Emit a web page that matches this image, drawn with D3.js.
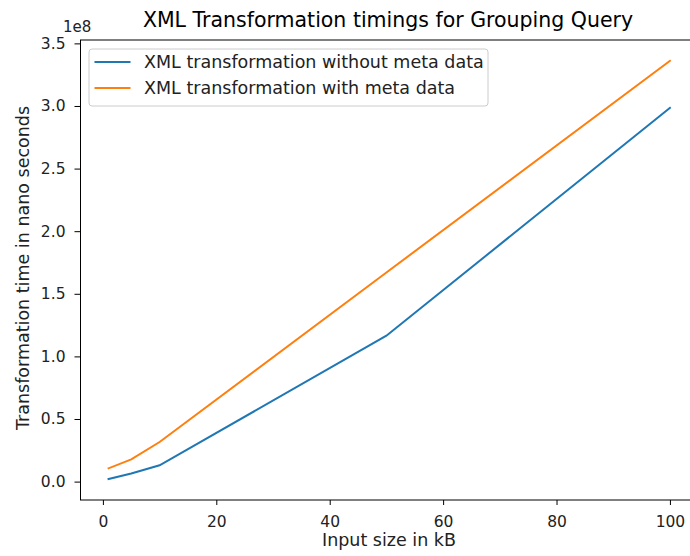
<!DOCTYPE html>
<html>
<head>
<meta charset="utf-8">
<script src="https://cdn.jsdelivr.net/npm/d3@7"></script>
<style>
body { margin: 0; background: #fff; }
svg { display: block; font-family: "DejaVu Sans", sans-serif; }
</style>
</head>
<body>
<script>
// data
var inputSizes = [1, 5, 10, 50, 100];
var withoutMeta = [2.0e6, 6.5e6, 13.0e6, 116.5e6, 298.5e6];
var withMeta = [10.6e6, 17.8e6, 31.6e6, 167.0e6, 336.0e6];
var seriesNames = ["XML transformation without meta data", "XML transformation with meta data"];
var seriesColors = ["#1f77b4", "#ff7f0e"];
var xTicks = [0, 20, 40, 60, 80, 100];
var yTicks = [0, 0.5e8, 1.0e8, 1.5e8, 2.0e8, 2.5e8, 3.0e8, 3.5e8];

var margin = {top: 40, left: 80.5, right: 698, bottom: 500};

function padded(ext)
{
    var d = (ext[1] - ext[0]) * 0.05;
    return [ext[0] - d, ext[1] + d];
}

var x = d3.scaleLinear()
    .domain(padded(d3.extent(inputSizes)))
    .range([margin.left, margin.right]);

var y = d3.scaleLinear()
    .domain(padded(d3.extent(withoutMeta.concat(withMeta))))
    .range([margin.bottom, margin.top]);

var svg = d3.select("body").append("svg")
    .attr("width", 690)
    .attr("height", 556);

// series
var series = [withoutMeta, withMeta];
var line = d3.line()
    .x(function(d, i) { return x(inputSizes[i]); })
    .y(function(d) { return y(d); });

series.forEach(function(s, k) {
    svg.append("path")
        .datum(s)
        .attr("d", line)
        .attr("fill", "none")
        .attr("stroke", seriesColors[k])
        .attr("stroke-width", 2)
        .attr("stroke-linecap", "square");
});

// axes
var xAxis = d3.axisBottom(x).tickValues(xTicks).tickSize(5).tickPadding(10.5);
var yAxis = d3.axisLeft(y).tickValues(yTicks).tickSize(6).tickPadding(9)
    .tickFormat(function(d) { return (d / 1e8).toFixed(1); });

var gx = svg.append("g")
    .attr("transform", "translate(0," + margin.bottom + ")")
    .call(xAxis);
var gy = svg.append("g")
    .attr("transform", "translate(" + margin.left + ",0)")
    .call(yAxis);

[gx, gy].forEach(function(g) {
    g.select(".domain").remove();
    g.selectAll("line").attr("stroke", "#000").attr("stroke-width", 1);
    g.selectAll("text").attr("fill", "#222").style("font-size", "15.5px")
        .style("font-family", "DejaVu Sans");
});

// frame
svg.append("rect")
    .attr("x", margin.left)
    .attr("y", margin.top)
    .attr("width", margin.right - margin.left)
    .attr("height", margin.bottom - margin.top)
    .attr("fill", "none")
    .attr("stroke", "#000")
    .attr("stroke-width", 1);

// texts
svg.append("text")
    .attr("x", 388)
    .attr("y", 27)
    .attr("text-anchor", "middle")
    .style("font-size", "20.5px")
    .text("XML Transformation timings for Grouping Query");

svg.append("text")
    .attr("x", 63)
    .attr("y", 32)
    .style("font-size", "15px")
    .attr("fill", "#222")
    .text("1e8");

svg.append("text")
    .attr("x", 389)
    .attr("y", 545.5)
    .attr("text-anchor", "middle")
    .style("font-size", "17.5px")
    .attr("fill", "#222")
    .text("Input size in kB");

svg.append("text")
    .attr("transform", "translate(29,268) rotate(-90)")
    .attr("text-anchor", "middle")
    .style("font-size", "17.5px")
    .attr("fill", "#222")
    .text("Transformation time in nano seconds");

// legend
var legend = svg.append("g").attr("transform", "translate(89,49)");
legend.append("rect")
    .attr("width", 399)
    .attr("height", 57)
    .attr("rx", 3)
    .attr("fill", "#fff")
    .attr("fill-opacity", 0.8)
    .attr("stroke", "#ccc");

seriesNames.forEach(function(name, k) {
    var ly = 13 + k * 26;
    legend.append("line")
        .attr("x1", 5.5).attr("x2", 41.5)
        .attr("y1", ly).attr("y2", ly)
        .attr("stroke", seriesColors[k])
        .attr("stroke-width", 2);
    legend.append("text")
        .attr("x", 55)
        .attr("y", ly + 5.5)
        .style("font-size", "17.5px")
        .attr("fill", "#222")
        .text(name);
});
</script>
</body>
</html>
